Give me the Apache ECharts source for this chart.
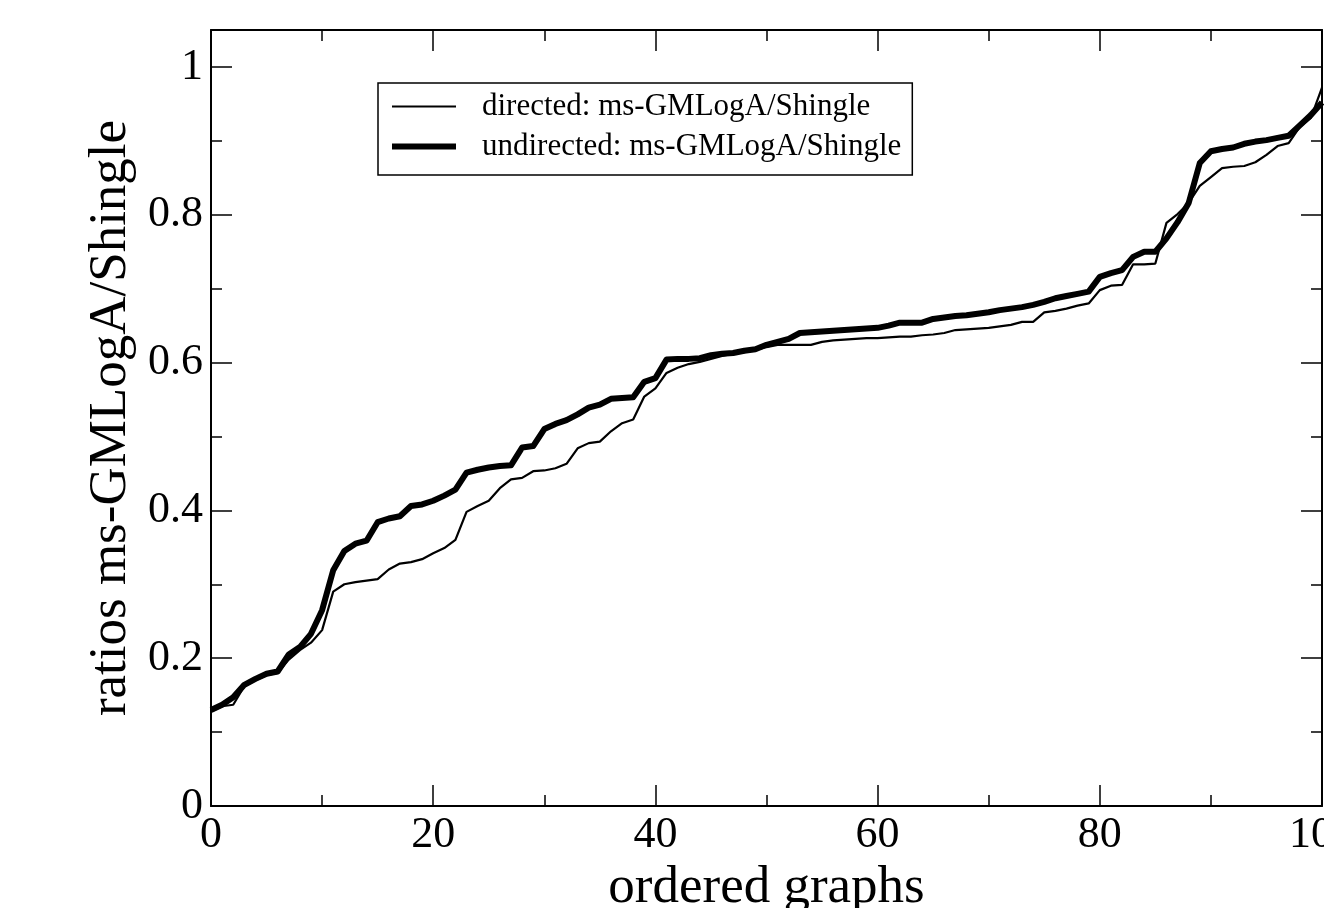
<!DOCTYPE html>
<html>
<head>
<meta charset="utf-8">
<script src="https://cdn.jsdelivr.net/npm/echarts@6/dist/echarts.min.js"></script>
<style>
html,body{margin:0;padding:0;background:#fff;}
#chart{width:1324px;height:908px;}
</style>
</head>
<body>
<div id="chart"></div>
<script>
const graphIndex = [0,1,2,3,4,5,6,7,8,9,10,11,12,13,14,15,16,17,18,19,20,21,22,23,24,25,26,27,28,29,30,31,32,33,34,35,36,37,38,39,40,41,42,43,44,45,46,47,48,49,50,51,52,53,54,55,56,57,58,59,60,61,62,63,64,65,66,67,68,69,70,71,72,73,74,75,76,77,78,79,80,81,82,83,84,85,86,87,88,89,90,91,92,93,94,95,96,97,98,99,100];

const directedRatios = [0.128,0.135,0.137,0.162,0.170,0.177,0.180,0.198,0.211,0.221,0.238,0.290,0.300,0.303,0.305,0.307,0.320,0.328,0.330,0.334,0.342,0.349,0.360,0.398,0.406,0.413,0.430,0.442,0.444,0.453,0.454,0.457,0.463,0.484,0.491,0.493,0.507,0.518,0.523,0.554,0.565,
0.586,0.593,0.598,0.601,0.605,0.609,0.612,0.614,0.617,0.621,0.624,0.624,0.624,0.624,0.628,0.630,0.631,0.632,0.633,0.633,
0.634,0.635,0.635,0.637,0.638,0.640,0.644,0.645,0.646,0.647,0.649,0.651,0.655,0.655,0.668,0.670,0.673,0.677,0.680,0.698,0.704,0.705,0.733,0.733,0.734,0.789,0.801,0.816,0.839,0.851,0.863,0.865,0.866,0.871,0.881,0.893,0.897,0.919,0.931,0.972];

const undirectedRatios = [0.130,0.137,0.147,0.164,0.172,0.179,0.182,0.205,0.215,0.233,0.265,0.319,0.345,0.355,0.359,0.384,0.389,0.392,0.406,0.408,0.413,0.420,0.428,0.451,0.455,0.458,0.460,0.461,0.485,0.487,0.510,0.517,0.522,0.530,0.539,0.543,0.551,0.552,0.553,0.574,0.579,
0.604,0.605,0.605,0.606,0.610,0.612,0.613,0.616,0.618,0.624,0.628,0.632,0.640,0.641,0.642,0.643,0.644,0.645,0.646,0.647,
0.650,0.654,0.654,0.654,0.659,0.661,0.663,0.664,0.666,0.668,0.671,0.673,0.675,0.678,0.682,0.687,0.690,0.693,0.696,0.716,0.721,0.725,0.743,0.750,0.750,0.768,0.790,0.816,0.870,0.886,0.889,0.891,0.896,0.899,0.901,0.904,0.907,0.921,0.935,0.952];

const seriesNames = ['directed: ms-GMLogA/Shingle', 'undirected: ms-GMLogA/Shingle'];
const xTitle = 'ordered graphs';
const yTitle = 'ratios ms-GMLogA/Shingle';

const FONT = '"Liberation Serif", "DejaVu Serif", serif';

function pairs(ys){ return graphIndex.map((x,i)=>[x, ys[i]]); }

const axisLineStyle = {show:true, onZero:false, lineStyle:{color:'#000', width:2}};
const tickStyle = {show:true, inside:true, length:21, lineStyle:{color:'#000', width:1.5}};
const minorStyle = {show:true, splitNumber:2, length:11, lineStyle:{color:'#000', width:1.5}};

const chart = echarts.init(document.getElementById('chart'), null, {renderer:'canvas'});
chart.setOption({
  animation:false,
  backgroundColor:'#fff',
  grid:{left:211, right:2, top:30, bottom:102, containLabel:false, outerBoundsMode:'none'},
  legend:{
    orient:'vertical', left:378, top:83,
    itemWidth:64, itemHeight:14, itemGap:9,
    padding:[8,11,13,14],
    symbolKeepAspect:true,
    borderColor:'#000', borderWidth:1.5, backgroundColor:'#fff',
    textStyle:{fontFamily:FONT, fontSize:31, color:'#000', lineHeight:31, padding:[0,0,0,21]},
    data:[
      {name:seriesNames[0], icon:'path://M0,0H64V2.2H0Z', itemStyle:{color:'#000'}},
      {name:seriesNames[1], icon:'path://M0,0H64V6H0Z', itemStyle:{color:'#000'}}
    ]
  },
  xAxis:[
    {type:'value', min:0, max:100, interval:20, position:'bottom',
     name:xTitle, nameLocation:'middle', nameGap:41,
     nameTextStyle:{fontFamily:FONT, fontSize:53, color:'#000'},
     axisLine:axisLineStyle, axisTick:tickStyle, minorTick:minorStyle,
     axisLabel:{fontFamily:FONT, fontSize:44, color:'#000', margin:7},
     splitLine:{show:false}},
    {type:'value', min:0, max:100, interval:20, position:'top',
     axisLine:axisLineStyle, axisTick:tickStyle, minorTick:minorStyle,
     axisLabel:{show:false}, splitLine:{show:false}}
  ],
  yAxis:[
    {type:'value', min:0, max:1.05, interval:0.2, position:'left',
     name:yTitle, nameLocation:'middle', nameGap:47,
     nameTextStyle:{fontFamily:FONT, fontSize:53, color:'#000'},
     axisLine:axisLineStyle, axisTick:tickStyle, minorTick:minorStyle,
     axisLabel:{fontFamily:FONT, fontSize:44, color:'#000', margin:8,
       formatter:function(v){ return v > 1.001 ? '' : String(Math.round(v*10)/10); }},
     splitLine:{show:false}},
    {type:'value', min:0, max:1.05, interval:0.2, position:'right',
     axisLine:axisLineStyle, axisTick:tickStyle, minorTick:minorStyle,
     axisLabel:{show:false}, splitLine:{show:false}}
  ],
  series:[
    {name:seriesNames[0], type:'line', data:pairs(directedRatios), symbol:'none',
     lineStyle:{color:'#000', width:2.2}, itemStyle:{color:'#000'}, z:3},
    {name:seriesNames[1], type:'line', data:pairs(undirectedRatios), symbol:'none',
     lineStyle:{color:'#000', width:6, join:'round'}, itemStyle:{color:'#000'}, z:2}
  ]
});
</script>
</body>
</html>
